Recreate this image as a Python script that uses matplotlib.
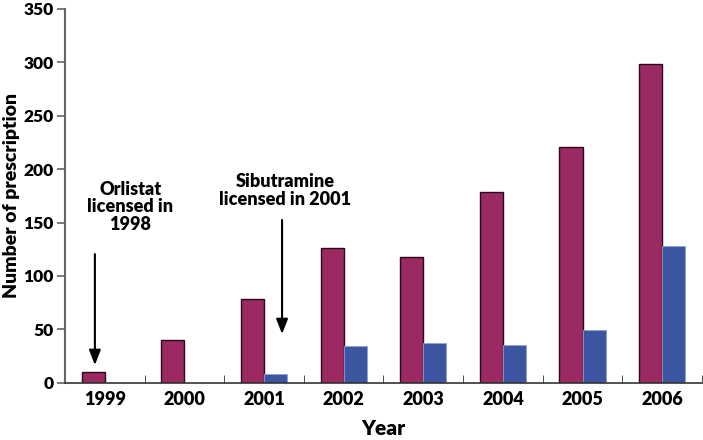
import matplotlib.pyplot as plt
import numpy as np

years = ["1999", "2000", "2001", "2002", "2003", "2004", "2005", "2006"]
orlistat = [10, 40, 78, 126, 118, 179, 221, 298]
sibutramine = [0, 0, 8, 34, 37, 35, 49, 128]

MAGENTA = "#9b2a62"
BLUE = "#3c55a0"

plt.rcParams["font.family"] = ["Lato", "DejaVu Sans"]
plt.rcParams["font.weight"] = "heavy"

fig = plt.figure(figsize=(7.03, 4.40), dpi=100)
ax = fig.add_axes([0.0925, 0.13, 0.906, 0.85])

x = np.arange(len(years))
w = 0.29
ax.bar(x - w / 2, orlistat, w, color=MAGENTA, edgecolor="#2a0a1a", linewidth=1.0)
blue_x = [xi + w / 2 for xi, v in zip(x, sibutramine) if v > 0]
blue_v = [v for v in sibutramine if v > 0]
ax.bar(blue_x, blue_v, w, color=BLUE, edgecolor="#8fa3d8", linewidth=0.6)

ax.set_xlim(-0.5, len(years) - 0.5)
ax.set_ylim(0, 350)
ax.set_yticks(range(0, 351, 50))
ax.set_xticks(x)
ax.set_xticklabels(years, fontsize=13, fontweight="heavy")
ax.set_xticks(np.arange(0.5, len(years), 1.0), minor=True)
ax.tick_params(axis="x", which="major", length=0, pad=6)
ax.tick_params(axis="x", which="minor", direction="in", length=6, color="#333333")
ax.tick_params(axis="y", direction="out", length=6, color="#666666", width=1.2,
               labelsize=12.5, pad=2)
for lab in ax.get_yticklabels():
    lab.set_fontweight("heavy")

for side in ["top", "right"]:
    ax.spines[side].set_visible(False)
ax.spines["left"].set_color("#666666")
ax.spines["left"].set_linewidth(1.5)
ax.spines["bottom"].set_color("#333333")
ax.spines["bottom"].set_linewidth(1.2)

ax.set_xlabel("Year", fontsize=15, fontweight="heavy")
ax.set_ylabel("Number of prescription", fontsize=14, fontweight="heavy")
ax.xaxis.set_label_coords(0.5, -0.097)
ax.yaxis.set_label_coords(-0.071, 0.5)

# annotations
arrow = dict(arrowstyle="-|>,head_width=0.35,head_length=0.9", color="black", lw=1.5)
ax.annotate("", xy=(-0.125, 14), xytext=(-0.125, 123), arrowprops=arrow)
ax.text(0.32, 140, "Orlistat\nlicensed in\n1998", ha="center", va="bottom",
        fontsize=13, fontweight="heavy", linespacing=1.05)

ax.annotate("", xy=(2.226, 43), xytext=(2.226, 155), arrowprops=arrow)
ax.text(2.26, 164, "Sibutramine\nlicensed in 2001", ha="center", va="bottom",
        fontsize=13, fontweight="heavy", linespacing=1.05)

fig.savefig("out.png", dpi=100)
